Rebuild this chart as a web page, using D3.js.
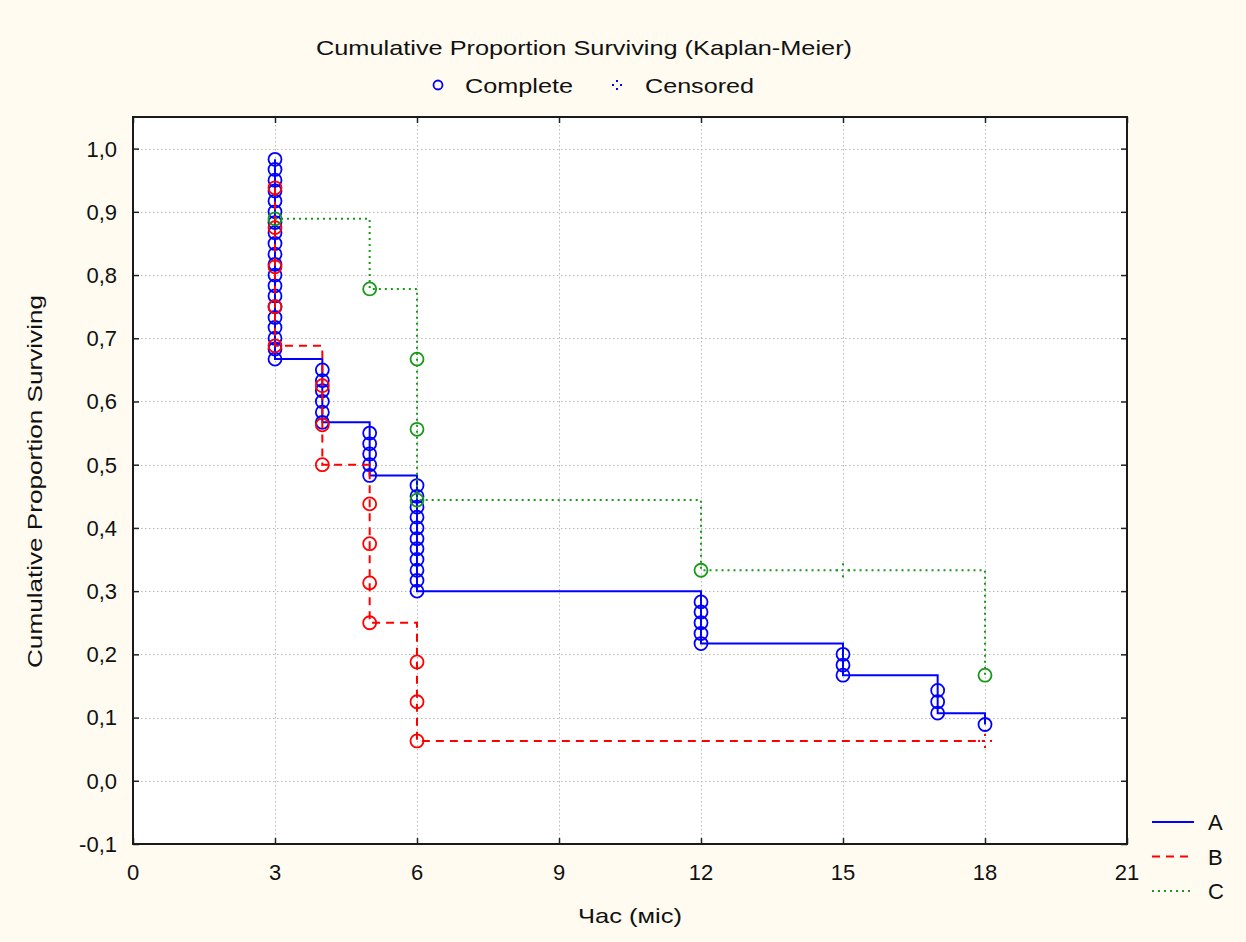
<!DOCTYPE html>
<html>
<head>
<meta charset="utf-8">
<script src="https://cdn.jsdelivr.net/npm/d3@7"></script>
<style>
  html, body { margin: 0; padding: 0; background: #fffbf0; }
  svg { display: block; }
  text { font-family: "Liberation Sans", Arial, sans-serif; fill: #111; }
</style>
</head>
<body>
<svg id="chart" width="1246" height="942"></svg>
<script>
// Kaplan-Meier estimates: time of each completed case and survival after it
const groupNames = ["A", "B", "C"];

const timeA = [3,3,3,3,3,3,3,3,3,3,3,3,3,3,3,3,3,3,3,3,
               4,4,4,4,4,4, 5,5,5,5,5, 6,6,6,6,6,6,6,6,6,6,6,
               12,12,12,12,12, 15,15,15, 17,17,17, 18];
const survA = [0.983,0.967,0.950,0.933,0.917,0.900,0.883,0.867,0.850,0.833,
               0.817,0.800,0.783,0.767,0.750,0.733,0.717,0.700,0.683,0.667,
               0.650,0.633,0.617,0.600,0.583,0.567,
               0.550,0.533,0.517,0.500,0.483,
               0.467,0.450,0.433,0.417,0.400,0.383,0.367,0.350,0.333,0.317,0.300,
               0.283,0.267,0.250,0.233,0.217,
               0.200,0.183,0.167,
               0.143,0.125,0.107,
               0.089];

const timeB = [3,3,3,3,3, 4,4,4, 5,5,5,5, 6,6,6];
const survB = [0.938,0.875,0.813,0.750,0.688, 0.625,0.563,0.500,
               0.438,0.375,0.313,0.250, 0.188,0.125,0.063];

const timeC = [3, 5, 6,6,6, 12, 18];
const survC = [0.889, 0.778, 0.667,0.556,0.444, 0.333, 0.167];

// censored observations (time, survival level)
const censTimeB = [18];
const censSurvB = [0.063];
const censTimeC = [15];
const censSurvC = [0.333];

const xTicks = [0, 3, 6, 9, 12, 15, 18, 21];
const yTicks = [-0.1, 0, 0.1, 0.2, 0.3, 0.4, 0.5, 0.6, 0.7, 0.8, 0.9, 1.0];

const titleText = "Cumulative Proportion Surviving (Kaplan-Meier)";
const xTitle = "Час (міс)";
const yTitle = "Cumulative Proportion Surviving";
const markerLabels = ["Complete", "Censored"];

const styles = {
  A: { color: "#0000ff", dash: null },
  B: { color: "#ff0000", dash: "8,6" },
  C: { color: "#189a18", dash: "2,4" }
};

const series = [
  { name: "A", t: timeA, s: survA, ct: [], cs: [] },
  { name: "B", t: timeB, s: survB, ct: censTimeB, cs: censSurvB },
  { name: "C", t: timeC, s: survC, ct: censTimeC, cs: censSurvC }
];

const svg = d3.select("#chart");
const plot = { left: 133, right: 1127, top: 117, bottom: 844 };

const x = d3.scaleLinear().domain([0, 21]).range([plot.left, plot.right]);
const y = d3.scaleLinear().domain([-0.1, 1.05]).range([plot.bottom, plot.top]);

// plot area
svg.append("rect")
  .attr("x", plot.left).attr("y", plot.top)
  .attr("width", plot.right - plot.left).attr("height", plot.bottom - plot.top)
  .attr("fill", "#ffffff");

// grid
const grid = svg.append("g").attr("stroke", "#b8b8b8").attr("stroke-width", 1)
  .attr("stroke-dasharray", "1.5,2.5");
grid.selectAll("line.gx").data(xTicks.slice(1, -1)).join("line")
  .attr("x1", d => x(d) + 0.5).attr("x2", d => x(d) + 0.5)
  .attr("y1", plot.top).attr("y2", plot.bottom);
grid.selectAll("line.gy").data(yTicks.slice(1)).join("line")
  .attr("y1", d => Math.round(y(d)) + 0.5).attr("y2", d => Math.round(y(d)) + 0.5)
  .attr("x1", plot.left).attr("x2", plot.right);

// axes (ticks pointing inward)
const fmt = d => d3.format(".1f")(d).replace(".", ",").replace("\u2212", "-");
const yAxis = d3.axisRight(y).tickValues(yTicks).tickSize(6).tickFormat("");
const yAxisR = d3.axisLeft(y).tickValues(yTicks).tickSize(6).tickFormat("");
const xAxis = d3.axisTop(x).tickValues(xTicks).tickSize(6).tickFormat("");
const xAxisT = d3.axisBottom(x).tickValues(xTicks).tickSize(6).tickFormat("");

function styleAxis(g) {
  g.select(".domain").remove();
  g.selectAll(".tick line").attr("stroke", "#222").attr("stroke-width", 1.5);
}
svg.append("g").attr("transform", `translate(${plot.left},0)`).call(yAxis).call(styleAxis);
svg.append("g").attr("transform", `translate(${plot.right},0)`).call(yAxisR).call(styleAxis);
svg.append("g").attr("transform", `translate(0,${plot.bottom})`).call(xAxis).call(styleAxis);
svg.append("g").attr("transform", `translate(0,${plot.top})`).call(xAxisT).call(styleAxis);

// frame
svg.append("rect")
  .attr("x", plot.left).attr("y", plot.top)
  .attr("width", plot.right - plot.left).attr("height", plot.bottom - plot.top)
  .attr("fill", "none").attr("stroke", "#1a1a1a").attr("stroke-width", 2);

// tick labels
svg.append("g").selectAll("text").data(yTicks).join("text")
  .attr("x", plot.left - 16).attr("y", d => y(d)).attr("dy", "0.36em")
  .attr("text-anchor", "end").style("font-size", "22px").text(fmt);
svg.append("g").selectAll("text").data(xTicks).join("text")
  .attr("x", d => x(d)).attr("y", plot.bottom + 36)
  .attr("text-anchor", "middle").style("font-size", "22px").text(d => d);

// axis titles (wide lettering)
svg.append("text").attr("x", x(10.5)).attr("y", 923)
  .attr("text-anchor", "middle").style("font-size", "21px")
  .attr("textLength", 104).attr("lengthAdjust", "spacingAndGlyphs").text(xTitle);
svg.append("text")
  .attr("transform", `translate(42,${(y(-0.1) + y(1.05)) / 2 + 1}) rotate(-90)`)
  .attr("text-anchor", "middle").style("font-size", "21px")
  .attr("textLength", 373).attr("lengthAdjust", "spacingAndGlyphs").text(yTitle);

// title
svg.append("text").attr("x", 584).attr("y", 55)
  .attr("text-anchor", "middle").style("font-size", "21px")
  .attr("textLength", 536).attr("lengthAdjust", "spacingAndGlyphs").text(titleText);

// censored marker: four dots in a cross
function censMark(g, cx, cy, color, r) {
  const offs = [[0, -r], [r, 0], [0, r], [-r, 0]];
  g.selectAll(null).data(offs).join("rect")
    .attr("x", d => cx + d[0] - 1).attr("y", d => cy + d[1] - 1)
    .attr("width", 2).attr("height", 2).attr("fill", color);
}

// series
const line = d3.line().x(d => x(d[0])).y(d => y(d[1])).curve(d3.curveStepAfter);
series.forEach(sr => {
  const st = styles[sr.name];
  const g = svg.append("g");
  const pts = sr.t.map((t, i) => [t, sr.s[i]]);
  sr.ct.forEach((t, i) => pts.push([t, sr.cs[i]]));
  pts.sort((a, b) => a[0] - b[0] || b[1] - a[1]);
  g.append("path").datum(pts).attr("d", line)
    .attr("fill", "none").attr("stroke", st.color).attr("stroke-width", 2)
    .attr("stroke-dasharray", st.dash);
  g.selectAll("circle").data(sr.t.map((t, i) => [t, sr.s[i]])).join("circle")
    .attr("cx", d => x(d[0])).attr("cy", d => y(d[1])).attr("r", 6.5)
    .attr("fill", "none").attr("stroke", st.color).attr("stroke-width", 1.8);
  sr.ct.forEach((t, i) => censMark(g, x(t), y(sr.cs[i]), st.color, 6));
});

// marker legend
const lg = svg.append("g");
lg.append("circle").attr("cx", 438).attr("cy", 85).attr("r", 4.5)
  .attr("fill", "none").attr("stroke", "#0000ff").attr("stroke-width", 1.8);
lg.append("text").attr("x", 465).attr("y", 93).style("font-size", "21px")
  .attr("textLength", 108).attr("lengthAdjust", "spacingAndGlyphs").text(markerLabels[0]);
censMark(lg, 617, 85, "#0000ff", 4);
lg.append("text").attr("x", 645).attr("y", 93).style("font-size", "21px")
  .attr("textLength", 109).attr("lengthAdjust", "spacingAndGlyphs").text(markerLabels[1]);

// series legend
const sl = svg.append("g");
groupNames.forEach((n, i) => {
  const yy = 822 + i * 34.5;
  sl.append("line").attr("x1", 1152).attr("x2", 1194).attr("y1", yy).attr("y2", yy)
    .attr("stroke", styles[n].color).attr("stroke-width", 2)
    .attr("stroke-dasharray", styles[n].dash);
  sl.append("text").attr("x", 1208).attr("y", yy + 8).style("font-size", "22px").text(n);
});
</script>
</body>
</html>
